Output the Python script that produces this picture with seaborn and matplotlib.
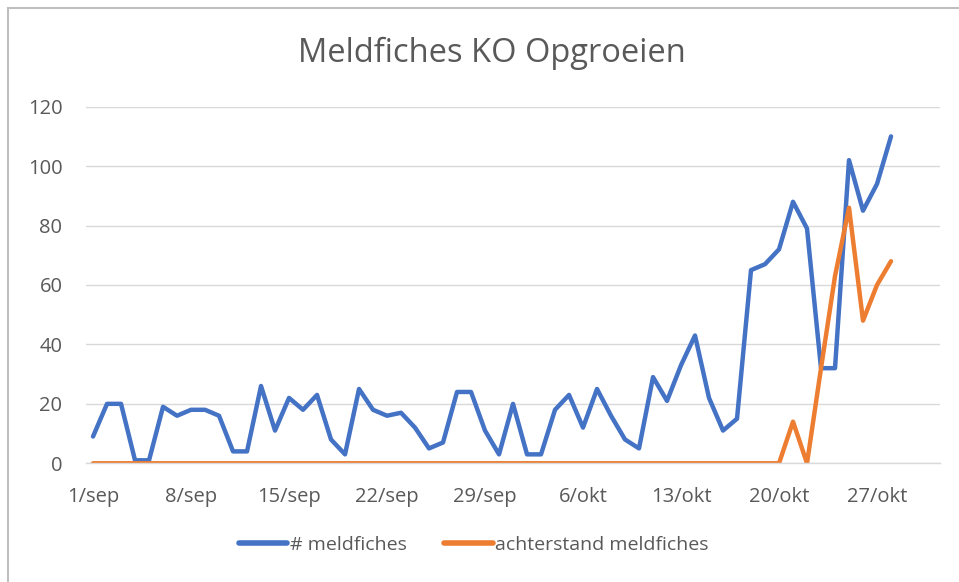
import numpy as np
import pandas as pd
import matplotlib
matplotlib.use("Agg")
import matplotlib.pyplot as plt
from matplotlib.patches import Rectangle
import seaborn as sns

# daily counts, 1/sep .. 28/okt
meldfiches = [9, 20, 20, 1, 1, 19, 16, 18, 18, 16,
              4, 4, 26, 11, 22, 18, 23, 8, 3, 25,
              18, 16, 17, 12, 5, 7, 24, 24, 11, 3,
              20, 3, 3, 18, 23, 12, 25, 16, 8, 5,
              29, 21, 33, 43, 22, 11, 15, 65, 67, 72,
              88, 79, 32, 32, 102, 85, 94, 110]
achterstand = [0] * 50 + [14, 0, 32, 63, 86, 48, 60, 68]

tick_labels = ["1/sep", "8/sep", "15/sep", "22/sep", "29/sep",
               "6/okt", "13/okt", "20/okt", "27/okt"]
n_days = 61  # 1/sep .. 31/okt on the axis

df = pd.DataFrame({
    "dag": np.arange(len(meldfiches)),
    "# meldfiches": meldfiches,
    "achterstand meldfiches": achterstand,
})
long_df = df.melt(id_vars="dag", var_name="reeks", value_name="aantal")

sns.set_style("white")
plt.rcParams["font.family"] = ["Open Sans", "DejaVu Sans"]
text_col = "#595959"
grid_col = "#D9D9D9"

fig = plt.figure(figsize=(9.59, 5.82), dpi=100)
ax = fig.add_axes([0.0897, 0.204, 0.8905, 0.6127])

sns.lineplot(data=long_df, x="dag", y="aantal", hue="reeks",
             palette=["#4472C4", "#ED7D31"], linewidth=3.2,
             ax=ax, legend=True)
for ln in ax.get_lines():
    ln.set_solid_joinstyle("round")
    ln.set_solid_capstyle("round")

ax.set_ylim(0, 120)
ax.set_yticks(range(0, 121, 20))
ax.set_xlim(-0.5, n_days - 0.5)
week_pos = np.arange(0, 7 * len(tick_labels), 7)
ax.set_xticks(week_pos)
ax.set_xticklabels(tick_labels)
ax.set_xticks(week_pos - 0.5, minor=True)
ax.tick_params(axis="x", which="major", length=0, pad=17,
               labelsize=14.5, labelcolor=text_col)
ax.tick_params(axis="x", which="minor", length=5, width=1, color=grid_col)
ax.tick_params(axis="y", length=0, pad=17, labelsize=14.5, labelcolor=text_col)
ax.set_xlabel("")
ax.set_ylabel("")

ax.grid(axis="y", color=grid_col, linewidth=1)
ax.set_axisbelow(True)
for side in ["left", "right", "top"]:
    ax.spines[side].set_visible(False)
ax.spines["bottom"].set_color(grid_col)
ax.spines["bottom"].set_linewidth(1)

fig.suptitle("Meldfiches KO Opgroeien", x=0.513, y=0.908, va="center",
             fontsize=23.5, color=text_col)

leg = ax.legend(loc="center", bbox_to_anchor=(0.494, 0.064),
                bbox_transform=fig.transFigure, ncol=2, frameon=False,
                fontsize=14, handlelength=2.5, handletextpad=0.15,
                columnspacing=1.9)
for t in leg.get_texts():
    t.set_color(text_col)
for h in leg.get_lines():
    h.set_linewidth(4)
    h.set_solid_capstyle("round")

# chart area border (cut off at right and bottom)
fig.patches.append(Rectangle((8 / 959, -0.05), 1.1, 1.05 - 8 / 582,
                             transform=fig.transFigure, fill=False,
                             edgecolor="#BFBFBF", linewidth=1.5))

fig.savefig("out.png", dpi=100)
